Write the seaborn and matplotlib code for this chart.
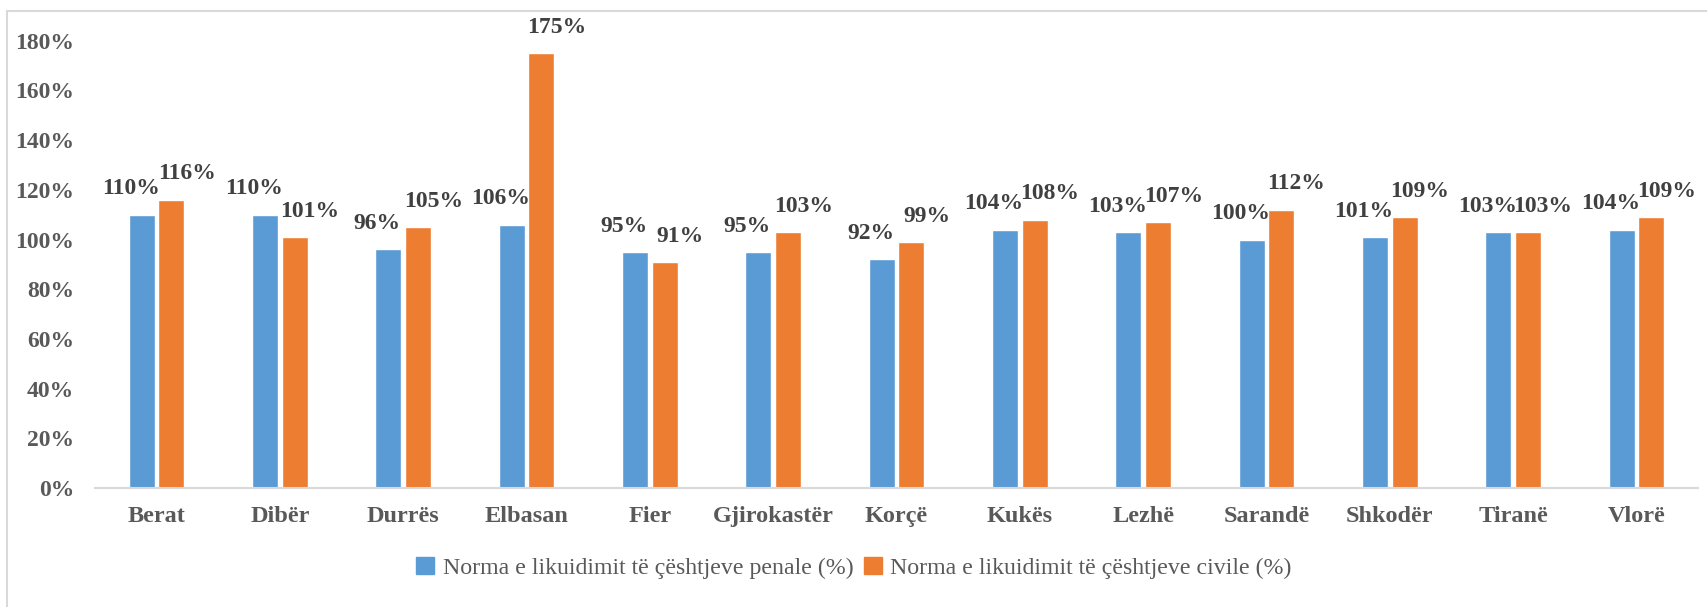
import matplotlib
matplotlib.use("Agg")
import matplotlib.pyplot as plt
from matplotlib.patches import Rectangle
import seaborn as sns
import pandas as pd

# District names and liquidation rates (%) for criminal and civil cases
districts = ["Berat", "Dibër", "Durrës", "Elbasan", "Fier", "Gjirokastër", "Korçë",
             "Kukës", "Lezhë", "Sarandë", "Shkodër", "Tiranë", "Vlorë"]
penale = [110, 110, 96, 106, 95, 95, 92, 104, 103, 100, 101, 103, 104]
civile = [116, 101, 105, 175, 91, 103, 99, 108, 107, 112, 109, 103, 109]
series_names = ["Norma e likuidimit të çështjeve penale (%)",
                "Norma e likuidimit të çështjeve civile (%)"]
y_ticks = [0, 20, 40, 60, 80, 100, 120, 140, 160, 180]

colors = ["#5B9BD5", "#ED7D31"]

sns.set_theme(style="white")
plt.rcParams["font.family"] = ["Liberation Serif", "DejaVu Serif"]

df = pd.DataFrame({
    "district": districts * 2,
    "value": [v / 100 for v in penale] + [v / 100 for v in civile],
    "series": [series_names[0]] * len(districts) + [series_names[1]] * len(districts),
})

fig = plt.figure(figsize=(17.07, 6.07), dpi=100)
ax = fig.add_axes([95 / 1707, 119 / 607, (1698 - 95) / 1707, 447.3 / 607])

sns.barplot(data=df, x="district", y="value", hue="series", palette=colors,
            width=0.48, gap=0.12, order=districts, hue_order=series_names,
            errorbar=None, ax=ax, saturation=1, legend=False)

ax.set_xlim(-0.5, len(districts) - 0.5)
ax.set_ylim(0, 1.8)
ax.set_yticks([t / 100 for t in y_ticks])
ax.set_yticklabels([f"{t}%" for t in y_ticks])
ax.set_xlabel("")
ax.set_ylabel("")

for s in ["top", "right", "left"]:
    ax.spines[s].set_visible(False)
ax.spines["bottom"].set_color("#D9D9D9")
ax.spines["bottom"].set_linewidth(1.5)
ax.tick_params(axis="both", length=0)
ax.tick_params(axis="y", pad=15, labelsize=17, labelcolor="#595959")
ax.tick_params(axis="x", pad=13, labelsize=17.5, labelcolor="#595959")
for lbl in ax.get_xticklabels() + ax.get_yticklabels():
    lbl.set_fontweight("bold")

# Value labels above each bar, nudged apart so pairs stay readable
offsets = [-8, 11]
for cont, dx in zip(ax.containers, offsets):
    for bar in cont:
        h = bar.get_height()
        ax.annotate(f"{round(h * 100):.0f}%",
                    xy=(bar.get_x() + bar.get_width() / 2, h),
                    xytext=(dx, 11), textcoords="offset points",
                    ha="center", va="bottom", fontsize=17,
                    fontweight="bold", color="#404040", annotation_clip=False)

handles = [Rectangle((0, 0), 1, 1, color=c) for c in colors]
leg = ax.legend(handles, series_names, loc="center",
                bbox_to_anchor=(854 / 1707, 1 - 568 / 607),
                bbox_transform=fig.transFigure, ncol=2, frameon=False,
                handlelength=0.75, handleheight=0.75, handletextpad=0.35,
                columnspacing=0.45, fontsize=17.2)
for t in leg.get_texts():
    t.set_color("#595959")

# Light frame around the chart area
fig.patches.append(Rectangle((7 / 1707, -0.1), 2, 1 - 11 / 607 + 0.1,
                             transform=fig.transFigure, fill=False,
                             edgecolor="#D9D9D9", linewidth=1.5))

fig.savefig("out.png", dpi=100)
